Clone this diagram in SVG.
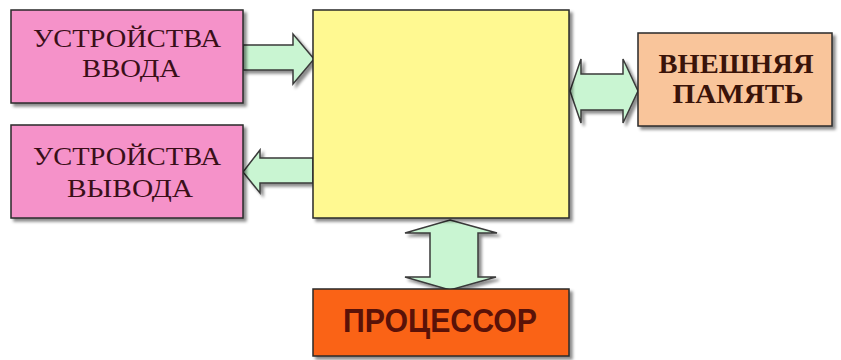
<svg xmlns="http://www.w3.org/2000/svg" width="841" height="360" viewBox="0 0 841 360">
<defs>
<filter id="sh" x="-10%" y="-10%" width="130%" height="130%">
<feDropShadow dx="3" dy="3" stdDeviation="1.5" flood-color="#000" flood-opacity="0.45"/>
</filter>
<style>
.box{stroke:#2a2a2a;stroke-width:1.5;filter:url(#sh)}
.arrow{fill:#c9f5d2;stroke:#3a3a3a;stroke-width:1.5;stroke-linejoin:miter;filter:url(#sh)}
.dev{font-family:"Liberation Serif","DejaVu Serif",serif;font-size:26px;fill:#3a0f18;text-anchor:middle}
.mem{font-family:"Liberation Serif","DejaVu Serif",serif;font-size:27px;font-weight:bold;fill:#3a140a;text-anchor:middle}
.cpu{font-family:"Liberation Sans","DejaVu Sans",sans-serif;font-size:33px;font-weight:bold;fill:#5a1208;text-anchor:middle}
</style>
</defs>
<rect width="841" height="360" fill="#ffffff"/>
<g id="connectors">
<path class="arrow" d="M243,45 H293 V34 L314,59 L293,84 V70 H243 Z"/>
<path class="arrow" d="M313,158 H260 V150 L243,172 L260,193 V183 H313 Z"/>
<path class="arrow" d="M570,91 L581,59 V74 H623 V59 L638,91 L623,123 V110 H581 V123 Z"/>
<path class="arrow" d="M450,220 L497,233 H478 V277 H496 L450,290 L405,277 H430 V233 H405 Z"/>
</g>
<g id="memory_main">
<rect class="box" x="313" y="10" width="256" height="208" fill="#fff991"/>
</g>
<g id="input_devices">
<rect class="box" x="11" y="10" width="232" height="93" fill="#f592c9"/>
<text class="dev" x="127" y="47" textLength="188" lengthAdjust="spacingAndGlyphs">УСТРОЙСТВА</text>
<text class="dev" x="131" y="77" textLength="98" lengthAdjust="spacingAndGlyphs">ВВОДА</text>
</g>
<g id="output_devices">
<rect class="box" x="11" y="125" width="232" height="93" fill="#f592c9"/>
<text class="dev" x="127" y="165" textLength="188" lengthAdjust="spacingAndGlyphs">УСТРОЙСТВА</text>
<text class="dev" x="130" y="197" textLength="126" lengthAdjust="spacingAndGlyphs">ВЫВОДА</text>
</g>
<g id="external_memory">
<rect class="box" x="638" y="33" width="194" height="93" fill="#f9c59b"/>
<text class="mem" x="736" y="73" textLength="155" lengthAdjust="spacingAndGlyphs">ВНЕШНЯЯ</text>
<text class="mem" x="738" y="103" textLength="131" lengthAdjust="spacingAndGlyphs">ПАМЯТЬ</text>
</g>
<g id="processor">
<rect class="box" x="313" y="289" width="256" height="67" fill="#fa6414"/>
<text class="cpu" x="440" y="332" textLength="194" lengthAdjust="spacingAndGlyphs">ПРОЦЕССОР</text>
</g>
</svg>
